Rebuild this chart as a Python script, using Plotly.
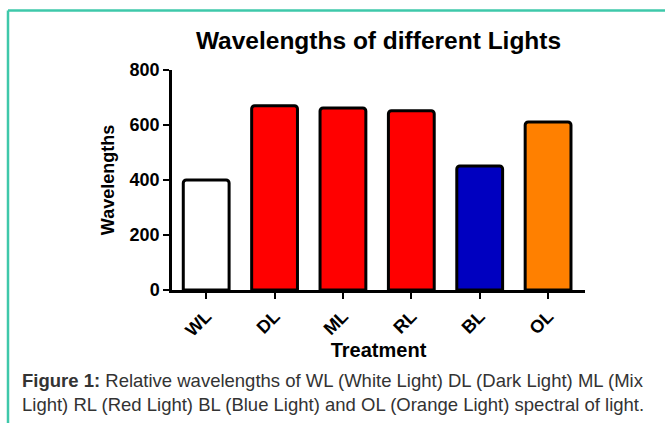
import plotly.graph_objects as go

categories = ["WL", "DL", "ML", "RL", "BL", "OL"]
values = [400, 670, 662, 652, 451, 611]
bar_colors = ["#FFFFFF", "#FF0000", "#FF0000", "#FF0000", "#0000C0", "#FF8000"]
y_ticks = [0, 200, 400, 600, 800]

title_text = "Wavelengths of different Lights"
x_title = "Treatment"
y_title = "Wavelengths"
caption = ("<b>Figure 1:</b> Relative wavelengths of WL (White Light) DL (Dark Light) ML (Mix<br>"
           "Light) RL (Red Light) BL (Blue Light) and OL (Orange Light) spectral of light.")

FONT = "Liberation Sans, Arial, sans-serif"

fig = go.Figure()
fig.add_trace(go.Bar(
    x=categories, y=values,
    marker=dict(color=bar_colors, line=dict(color="black", width=3), cornerradius=3),
    width=0.67,
))

W, H = 665, 423
L, R, T, B = 172, 80, 70, 133
pw, ph = W - L - R, H - T - B

fig.update_layout(
    width=W, height=H,
    margin=dict(l=L, r=R, t=T, b=B, autoexpand=False),
    paper_bgcolor="white", plot_bgcolor="white",
    showlegend=False,
    font=dict(family=FONT, color="black"),
    title=dict(text=title_text, x=(L + pw / 2) / W, xanchor="center",
               y=1 - 40 / H, yanchor="middle",
               font=dict(size=24.5, family=FONT, weight="bold", color="black")),
    xaxis=dict(
        range=[-0.5, 5.54], showgrid=False, zeroline=False,
        showline=True, linecolor="black", linewidth=2.5,
        ticks="outside", ticklen=6, tickwidth=2, tickcolor="black",
        tickangle=-45, tickfont=dict(size=18, weight="bold", family=FONT),
        title=dict(text=x_title, font=dict(size=20, weight="bold", family=FONT), standoff=4),
    ),
    yaxis=dict(
        range=[0, 800], tickvals=y_ticks, showgrid=False, zeroline=False,
        showline=True, linecolor="black", linewidth=2.5,
        ticks="outside", ticklen=6, tickwidth=2, tickcolor="black",
        tickfont=dict(size=18, weight="bold", family=FONT),
        title=dict(text=y_title, font=dict(size=18, weight="bold", family=FONT), standoff=11),
    ),
)

# teal frame lines (top and left)
fig.add_shape(type="line", xref="paper", yref="paper",
              x0=(8 - L) / pw, x1=(W + 5 - L) / pw, y0=(H - B - 10.5) / ph, y1=(H - B - 10.5) / ph,
              line=dict(color="#3EC8AA", width=2.5))
fig.add_shape(type="line", xref="paper", yref="paper",
              x0=(8 - L) / pw, x1=(8 - L) / pw, y0=(H - B - 10.5) / ph, y1=(H - B - H - 5) / ph,
              line=dict(color="#3EC8AA", width=2.5))

fig.add_annotation(
    text=caption, xref="paper", yref="paper",
    x=(20 - L) / pw, y=(H - B - 368) / ph, xanchor="left", yanchor="top",
    align="left", showarrow=False,
    font=dict(size=18.5, family=FONT, color="#333333"),
)

fig.write_html("out.html", config={"displayModeBar": False},
               post_script="document.body.style.margin='0';")
